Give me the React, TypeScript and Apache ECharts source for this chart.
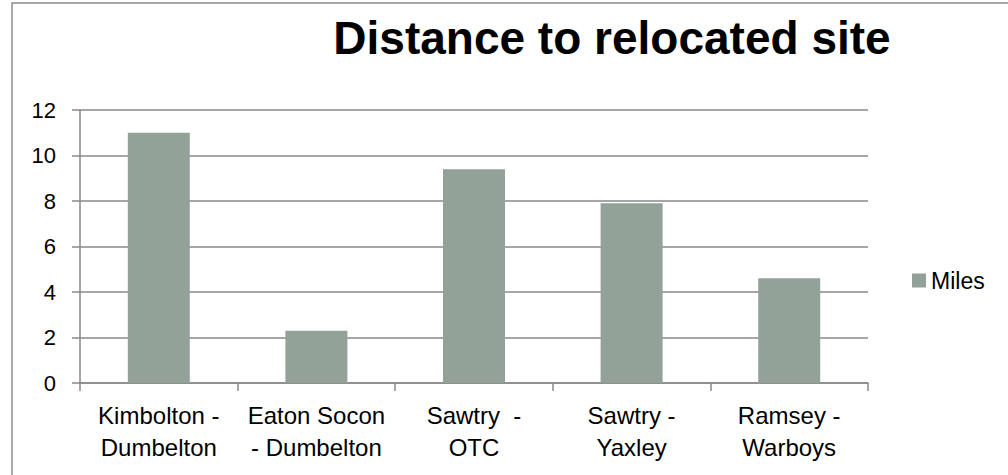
import React, { useEffect, useRef } from "react";
import * as echarts from "echarts";

const titleText = "Distance to relocated site";
const categories = [
  "Kimbolton -\nDumbelton",
  "Eaton Socon\n- Dumbelton",
  "Sawtry  -\nOTC",
  "Sawtry -\nYaxley",
  "Ramsey -\nWarboys",
];
const seriesName = "Miles";
const milesValues = [11, 2.3, 9.4, 7.9, 4.6];
const yTicks = { min: 0, max: 12, interval: 2 };

const FONT = "'Liberation Sans', Arial, sans-serif";
const GRID_COLOR = "#898989";
const BAR_COLOR = "#93A299";

export default function App() {
  const ref = useRef<HTMLDivElement>(null);

  useEffect(() => {
    if (!ref.current) return;
    const chart = echarts.init(ref.current, undefined, { renderer: "svg" });
    chart.setOption({
      animation: false,
      backgroundColor: "#ffffff",
      textStyle: { fontFamily: FONT, color: "#000" },
      graphic: [
        {
          type: "rect",
          shape: { x: 12, y: 3, width: 1100, height: 600 },
          style: { fill: "none", stroke: "#8c8c8c", lineWidth: 1.5 },
          silent: true,
        },
        {
          type: "text",
          x: 612,
          y: 38,
          style: {
            text: titleText,
            font: `bold 46px ${FONT}`,
            fill: "#000",
            textAlign: "center",
            textVerticalAlign: "middle",
          },
        },
      ],
      legend: {
        show: true,
        left: 907,
        top: 264,
        icon: "rect",
        itemWidth: 14,
        itemHeight: 14,
        itemGap: 6,
        textStyle: { fontSize: 23, fontFamily: FONT, color: "#000" },
        data: [seriesName],
      },
      grid: { left: 80, right: 140, top: 110, bottom: 92, containLabel: false },
      xAxis: {
        type: "category",
        data: categories,
        boundaryGap: true,
        axisLine: { show: true, lineStyle: { color: GRID_COLOR, width: 1.5 } },
        axisTick: { show: true, length: 8, lineStyle: { color: GRID_COLOR, width: 1.5 } },
        axisLabel: {
          interval: 0,
          margin: 16,
          fontSize: 24,
          lineHeight: 32,
          color: "#000",
          fontFamily: FONT,
          align: "center",
        },
      },
      yAxis: {
        type: "value",
        min: yTicks.min,
        max: yTicks.max,
        interval: yTicks.interval,
        axisLine: { show: true, lineStyle: { color: GRID_COLOR, width: 1.5 } },
        axisTick: { show: true, inside: false, length: 8, lineStyle: { color: GRID_COLOR, width: 1.5 } },
        axisLabel: { margin: 24, fontSize: 22, color: "#000", fontFamily: FONT },
        splitLine: { show: true, lineStyle: { color: GRID_COLOR, width: 1.5 } },
      },
      series: [
        {
          name: seriesName,
          type: "bar",
          data: milesValues,
          barWidth: 62,
          itemStyle: { color: BAR_COLOR },
        },
      ],
    });
    return () => chart.dispose();
  }, []);

  return (
    <div
      ref={ref}
      style={{ position: "absolute", left: 0, top: 0, width: 1008, height: 475 }}
    />
  );
}
